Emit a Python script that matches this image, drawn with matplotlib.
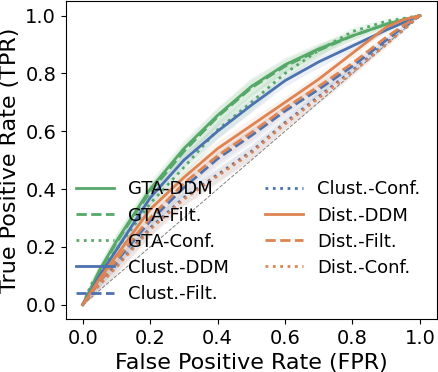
import matplotlib
matplotlib.use('Agg')
import matplotlib.pyplot as plt
import numpy as np

# 颜色 (seaborn deep)
GREEN = '#55a868'
BLUE = '#4c72b0'
ORANGE = '#dd8452'

# 数据: FPR 网格与各方法的平均 TPR
fpr = [0, .025, .05, .1, .15, .2, .3, .4, .5, .6, .7, .8, .9, .95, 1.0]

gta_ddm = [0, .06, .12, .22, .31, .40, .54, .655, .755, .83, .885, .93, .97, .985, 1.0]
gta_filt = [0, .055, .115, .215, .305, .39, .53, .65, .75, .825, .88, .93, .97, .985, 1.0]
gta_conf = [0, .07, .11, .19, .27, .35, .475, .605, .70, .80, .88, .945, .98, .99, 1.0]
clust_ddm = [0, .05, .10, .19, .28, .37, .50, .60, .69, .775, .84, .895, .95, .975, 1.0]
clust_filt = [0, .04, .08, .15, .22, .29, .405, .505, .585, .67, .745, .825, .915, .96, 1.0]
clust_conf = [0, .035, .07, .135, .20, .265, .37, .45, .53, .63, .72, .81, .905, .95, 1.0]
dist_ddm = [0, .045, .09, .17, .25, .33, .44, .54, .62, .70, .78, .87, .96, .985, 1.0]
dist_filt = [0, .04, .08, .155, .23, .30, .42, .515, .595, .68, .755, .835, .925, .965, 1.0]
dist_conf = [0, .035, .07, .13, .195, .26, .365, .445, .525, .625, .715, .805, .90, .95, 1.0]

# 标准差带宽
gta_std = [0, .02, .025, .03, .03, .03, .03, .03, .03, .025, .02, .015, .01, .005, 0]
clust_std = [0, .015, .02, .025, .025, .025, .025, .025, .025, .02, .02, .015, .01, .005, 0]
dist_std = [0, .015, .02, .025, .025, .025, .025, .025, .025, .02, .02, .015, .01, .005, 0]

curves = [
    ('GTA-DDM', gta_ddm, gta_std, GREEN, '-'),
    ('GTA-Filt.', gta_filt, gta_std, GREEN, '--'),
    ('GTA-Conf.', gta_conf, gta_std, GREEN, ':'),
    ('Clust.-DDM', clust_ddm, clust_std, BLUE, '-'),
    ('Clust.-Filt.', clust_filt, clust_std, BLUE, '--'),
    ('Clust.-Conf.', clust_conf, clust_std, BLUE, ':'),
    ('Dist.-DDM', dist_ddm, dist_std, ORANGE, '-'),
    ('Dist.-Filt.', dist_filt, dist_std, ORANGE, '--'),
    ('Dist.-Conf.', dist_conf, dist_std, ORANGE, ':'),
]

fig = plt.figure(figsize=(4.39, 3.72), dpi=100)
ax = fig.add_axes([0.150, 0.142, 0.845, 0.855])

ax.plot([0, 1], [0, 1], '--', color='gray', linewidth=0.7)

x = np.array(fpr)
for label, tpr, std, color, ls in curves:
    tpr = np.array(tpr)
    std = np.array(std)
    ax.fill_between(x, tpr - std, tpr + std, color=color, alpha=0.1, linewidth=0)
    ax.plot(x, tpr, linestyle=ls, color=color, linewidth=2, label=label)

ax.set_xlabel('False Positive Rate (FPR)', fontsize=16)
ax.set_ylabel('True Positive Rate (TPR)', fontsize=16)
ax.tick_params(labelsize=14)
ax.set_xticks([0, .2, .4, .6, .8, 1.0])
ax.set_yticks([0, .2, .4, .6, .8, 1.0])
ax.legend(loc='lower right', ncol=2, fontsize=13, frameon=False,
          handlelength=2.1, labelspacing=0.45)

plt.savefig('out.png', dpi=100)
plt.close()
